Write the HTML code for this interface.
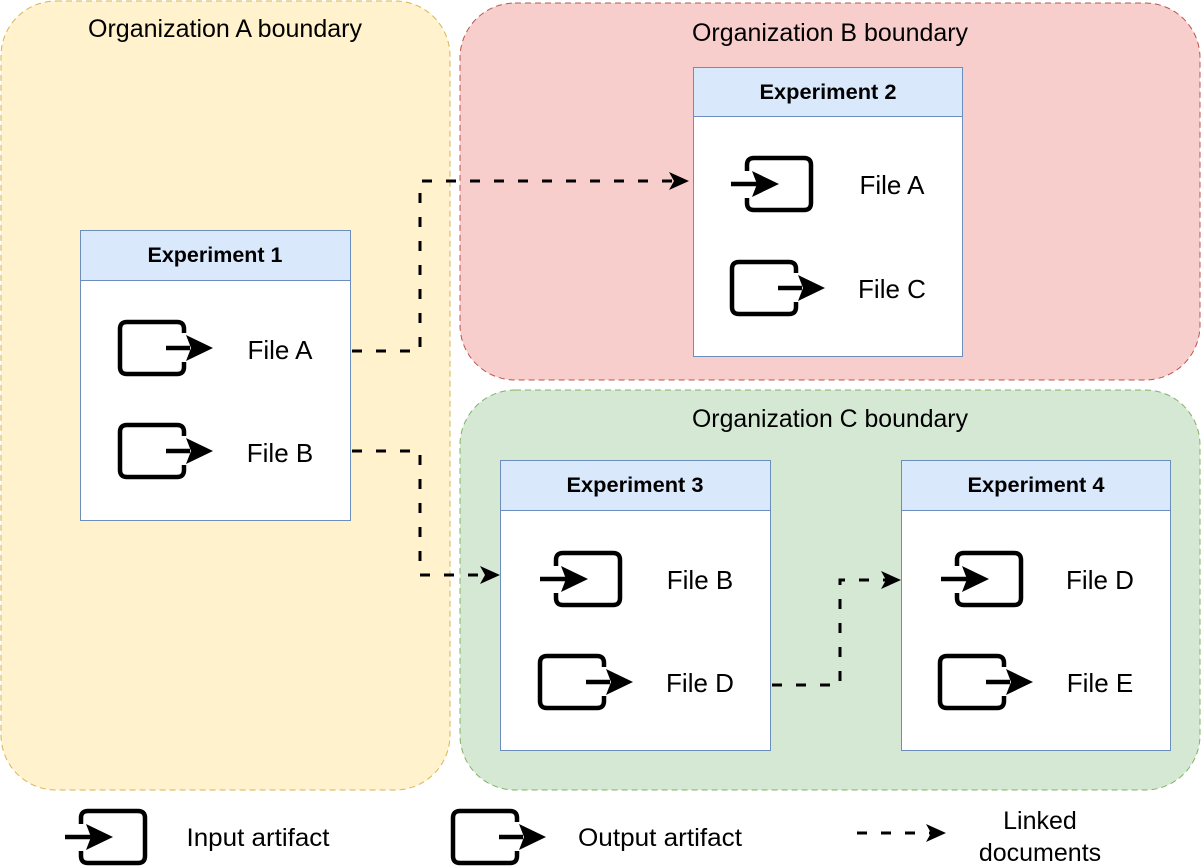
<!DOCTYPE html>
<html><head><meta charset="utf-8"><style>
html,body{margin:0;padding:0;background:#fff}
svg{display:block}
text{font-family:"Liberation Sans",Arial,sans-serif;fill:#000}
</style></head><body>
<svg width="1201" height="868" viewBox="0 0 1201 868" xmlns="http://www.w3.org/2000/svg">
<defs>
<g id="out">
<path d="M66,13 V9 Q66,2 59,2 H9 Q2,2 2,9 V47 Q2,54 9,54 H59 Q66,54 66,47 V42" fill="none" stroke="#000" stroke-width="4.5"/>
<line x1="48" y1="28" x2="72" y2="28" stroke="#000" stroke-width="4.5"/>
<polygon points="68,15 95,28 68,41 73,28" fill="#000"/>
</g>
<g id="in">
<path d="M2,15 V9 Q2,2 9,2 H59 Q66,2 66,9 V47 Q66,54 59,54 H9 Q2,54 2,47 V42" fill="none" stroke="#000" stroke-width="4.5"/>
<line x1="-14" y1="28" x2="14" y2="28" stroke="#000" stroke-width="4.5"/>
<polygon points="7,15 34,28 7,41 12,28" fill="#000"/>
</g>
</defs>

<rect x="1" y="1" width="449" height="789" rx="55" fill="#fff2cc" stroke="#d6b656" stroke-dasharray="6 4"/>
<rect x="460" y="3" width="740" height="377" rx="55" fill="#f8cecc" stroke="#b85450" stroke-dasharray="6 4"/>
<rect x="460" y="390" width="740" height="400" rx="55" fill="#d5e8d4" stroke="#82b366" stroke-dasharray="6 4"/>
<text x="225" y="37" font-size="25" text-anchor="middle" textLength="274" lengthAdjust="spacingAndGlyphs">Organization A boundary</text>
<text x="830" y="41" font-size="25" text-anchor="middle" textLength="276" lengthAdjust="spacingAndGlyphs">Organization B boundary</text>
<text x="830" y="427" font-size="25" text-anchor="middle" textLength="276" lengthAdjust="spacingAndGlyphs">Organization C boundary</text>

<rect x="80.5" y="230.5" width="270" height="290" fill="#fff" stroke="#6c8ebf"/>
<rect x="80.5" y="230.5" width="270" height="50" fill="#dae8fc" stroke="#6c8ebf"/>
<text x="215" y="262" font-size="21" font-weight="bold" text-anchor="middle" textLength="135" lengthAdjust="spacingAndGlyphs">Experiment 1</text>
<use href="#out" x="118" y="320"/>
<use href="#out" x="118" y="423"/>
<text x="280" y="359" font-size="26" text-anchor="middle">File A</text>
<text x="280" y="462" font-size="26" text-anchor="middle">File B</text>

<rect x="693.5" y="67.5" width="269" height="289" fill="#fff" stroke="#6c8ebf"/>
<rect x="693.5" y="67.5" width="269" height="49" fill="#dae8fc" stroke="#6c8ebf"/>
<text x="828" y="99" font-size="21" font-weight="bold" text-anchor="middle" textLength="137" lengthAdjust="spacingAndGlyphs">Experiment 2</text>
<use href="#in" x="745" y="156"/>
<use href="#out" x="730" y="260"/>
<text x="892" y="194" font-size="26" text-anchor="middle">File A</text>
<text x="892" y="298" font-size="26" text-anchor="middle">File C</text>

<rect x="500.5" y="460.5" width="270" height="290" fill="#fff" stroke="#6c8ebf"/>
<rect x="500.5" y="460.5" width="270" height="50" fill="#dae8fc" stroke="#6c8ebf"/>
<text x="635" y="492" font-size="21" font-weight="bold" text-anchor="middle" textLength="137" lengthAdjust="spacingAndGlyphs">Experiment 3</text>
<use href="#in" x="554" y="551"/>
<use href="#out" x="538" y="654"/>
<text x="700" y="589" font-size="26" text-anchor="middle">File B</text>
<text x="700" y="692" font-size="26" text-anchor="middle">File D</text>

<rect x="901.5" y="460.5" width="269" height="290" fill="#fff" stroke="#6c8ebf"/>
<rect x="901.5" y="460.5" width="269" height="50" fill="#dae8fc" stroke="#6c8ebf"/>
<text x="1036" y="492" font-size="21" font-weight="bold" text-anchor="middle" textLength="137" lengthAdjust="spacingAndGlyphs">Experiment 4</text>
<use href="#in" x="955" y="551"/>
<use href="#out" x="938" y="654"/>
<text x="1100" y="589" font-size="26" text-anchor="middle">File D</text>
<text x="1100" y="692" font-size="26" text-anchor="middle">File E</text>

<g fill="none" stroke="#000" stroke-width="3" stroke-dasharray="10 14">
<path d="M352,351 H420 V181 H676"/>
<path d="M352,451 H420 V575 H487"/>
<path d="M772,685 H840 V580 H887"/>
<path d="M857,833 H934"/>
</g>
<g fill="#000">
<polygon points="689,181 669,172 674,181 669,190"/>
<polygon points="500,575 480,566 485,575 480,584"/>
<polygon points="901,580 881,571 886,580 881,589"/>
<polygon points="946,833 926,824 931,833 926,842"/>
</g>

<use href="#in" x="79" y="809"/>
<text x="258" y="846" font-size="25" text-anchor="middle" textLength="143" lengthAdjust="spacingAndGlyphs">Input artifact</text>
<use href="#out" x="451" y="809"/>
<text x="660" y="846" font-size="25" text-anchor="middle" textLength="164" lengthAdjust="spacingAndGlyphs">Output artifact</text>
<text x="1040" y="829" font-size="25" text-anchor="middle">Linked</text>
<text x="1040" y="861" font-size="25" text-anchor="middle">documents</text>
</svg>
</body></html>
